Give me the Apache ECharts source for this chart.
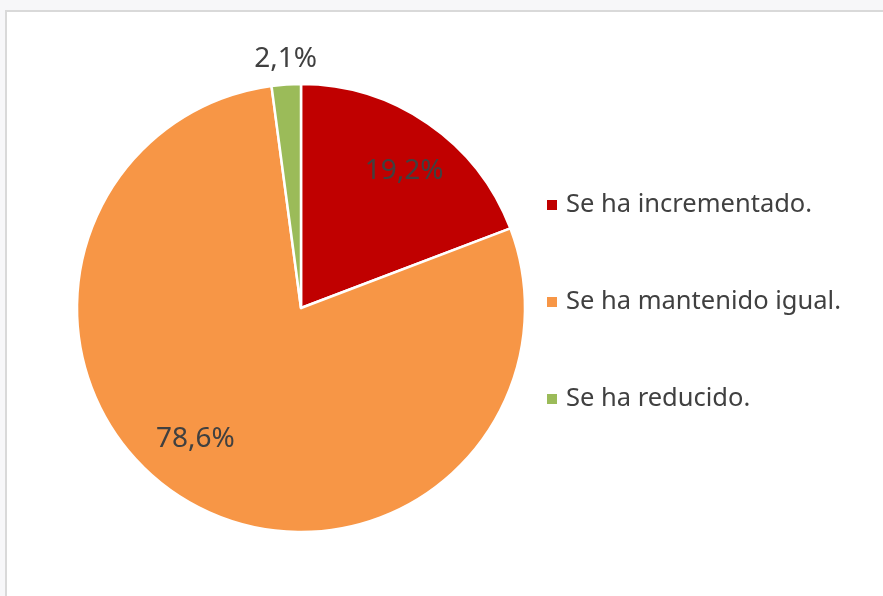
<!DOCTYPE html>
<html>
<head>
<meta charset="utf-8">
<script src="https://cdn.jsdelivr.net/npm/echarts@6/dist/echarts.min.js"></script>
<style>
  html, body { margin: 0; padding: 0; background: #f7f7f9; }
  #chart { width: 883px; height: 596px; }
</style>
</head>
<body>
<div id="chart"></div>
<script>
  var categories = ['Se ha incrementado.', 'Se ha mantenido igual.', 'Se ha reducido.']
  var values = [19.2, 78.6, 2.1]
  var labels = ['19,2%', '78,6%', '2,1%']
  var colors = ['#C00000', '#F79646', '#9BBB59']
  // ajuste fino de cada etiqueta respecto a su posición interior
  var labelOffsets = [[5, 5], [-17, -18], [-4, -76]]

  var chart = echarts.init(document.getElementById('chart'))
  var fontFamily = '"Noto Sans", sans-serif'

  var options = {
    backgroundColor: '#f7f7f9',
    animation: false,
    graphic: [{
      type: 'rect',
      shape: { x: 6, y: 11, width: 900, height: 600 },
      style: { fill: '#ffffff', stroke: '#d9d9d9', lineWidth: 2 },
      z: -10
    }],
    legend: {
      orient: 'vertical',
      left: 540,
      top: 186,
      itemWidth: 12,
      itemHeight: 12,
      itemGap: 69,
      icon: 'rect',
      textStyle: { color: '#404040', fontSize: 25.5, fontFamily: fontFamily, lineHeight: 28, padding: [0, 0, 0, 3] },
      data: categories
    },
    series: [
      {
        name: 'pie',
        type: 'pie',
        center: [301, 308],
        radius: [0, 224],
        startAngle: 90,
        clockwise: true,
        label: { show: false },
        labelLine: { show: false },
        itemStyle: { borderColor: '#ffffff', borderWidth: 2.5 },
        emphasis: { disabled: true },
        data: categories.map(function(name, i) {
          return { name: name, value: values[i], itemStyle: { color: colors[i] } }
        })
      },
      {
        // serie transparente sólo para colocar las etiquetas
        name: 'labels',
        type: 'pie',
        center: [301, 308],
        radius: [0, 340],
        startAngle: 90,
        clockwise: true,
        silent: true,
        z: 5,
        labelLine: { show: false },
        itemStyle: { color: 'rgba(0,0,0,0)', borderWidth: 0 },
        emphasis: { disabled: true },
        data: categories.map(function(name, i) {
          return {
            name: name,
            value: values[i],
            label: {
              show: true,
              position: 'inside',
              formatter: labels[i],
              offset: labelOffsets[i],
              color: '#404040',
              fontSize: 28,
              fontFamily: fontFamily
            }
          }
        })
      }
    ]
  }

  chart.setOption(options)
</script>
</body>
</html>
